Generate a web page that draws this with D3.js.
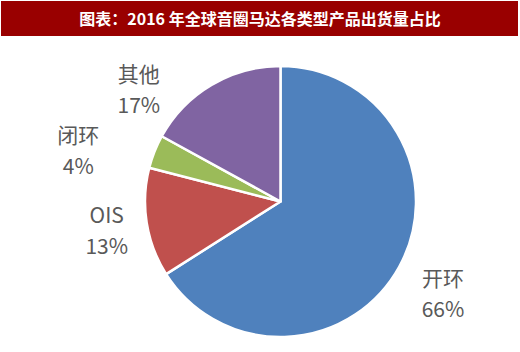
<!DOCTYPE html>
<html>
<head>
<meta charset="utf-8">
<script src="https://cdn.jsdelivr.net/npm/d3@7/dist/d3.min.js"></script>
<style>
  html, body { margin: 0; padding: 0; background: #fff; }
  svg { display: block; }
</style>
</head>
<body>
<svg id="chart" width="520" height="352"></svg>
<script>
const title = "图表：2016 年全球音圈马达各类型产品出货量占比";
const categories = ["开环", "OIS", "闭环", "其他"];
const values = [66, 13, 4, 17];
const valueLabels = ["66%", "13%", "4%", "17%"];
const colors = ["#4f81bd", "#c0504d", "#9bbb59", "#8064a2"];

// label nudges (layout only)
const labelNudge = [[3, 6], [6, 2], [-33, 17], [-49, 46]];

const svg = d3.select("#chart");
const W = 520, H = 352;
const cx = 280.5, cy = 201.5, R = 135.5;

svg.append("rect").attr("x", 0).attr("y", 0).attr("width", W).attr("height", H).attr("fill", "#fff");

svg.append("rect")
  .attr("x", 1).attr("y", 1).attr("width", 517).attr("height", 35)
  .attr("fill", "#990000");

svg.append("text")
  .attr("x", 260).attr("y", 25)
  .attr("text-anchor", "middle")
  .attr("font-family", "'Noto Sans CJK SC', sans-serif")
  .attr("font-weight", "bold")
  .attr("font-size", "16px")
  .attr("fill", "#ffffff")
  .attr("xml:space", "preserve")
  .style("white-space", "pre")
  .text(title);

const pie = d3.pie().sort(null).value(d => d)(values);
const arc = d3.arc().innerRadius(0).outerRadius(R);
const labelArc = d3.arc().innerRadius(182).outerRadius(182);

const g = svg.append("g").attr("transform", `translate(${cx},${cy})`);

g.selectAll("path.slice")
  .data(pie)
  .join("path")
  .attr("class", "slice")
  .attr("d", arc)
  .attr("fill", (d, i) => colors[i])
  .attr("stroke", "#ffffff")
  .attr("stroke-width", 2.5)
  .attr("stroke-linejoin", "round");

const labels = g.selectAll("g.lbl")
  .data(pie)
  .join("g")
  .attr("class", "lbl")
  .attr("transform", (d, i) => {
    const c = labelArc.centroid(d);
    return `translate(${c[0] + labelNudge[i][0]},${c[1] + labelNudge[i][1]})`;
  });

labels.append("text")
  .attr("x", 0).attr("y", -9)
  .attr("text-anchor", "middle")
  .attr("font-family", "'Noto Sans CJK SC', sans-serif")
  .attr("font-size", "21px")
  .attr("fill", "#595959")
  .text((d, i) => categories[i]);

labels.append("text")
  .attr("x", 0).attr("y", 22)
  .attr("text-anchor", "middle")
  .attr("font-family", "'Noto Sans CJK SC', sans-serif")
  .attr("font-size", "21px")
  .attr("fill", "#595959")
  .text((d, i) => valueLabels[i]);
</script>
</body>
</html>
